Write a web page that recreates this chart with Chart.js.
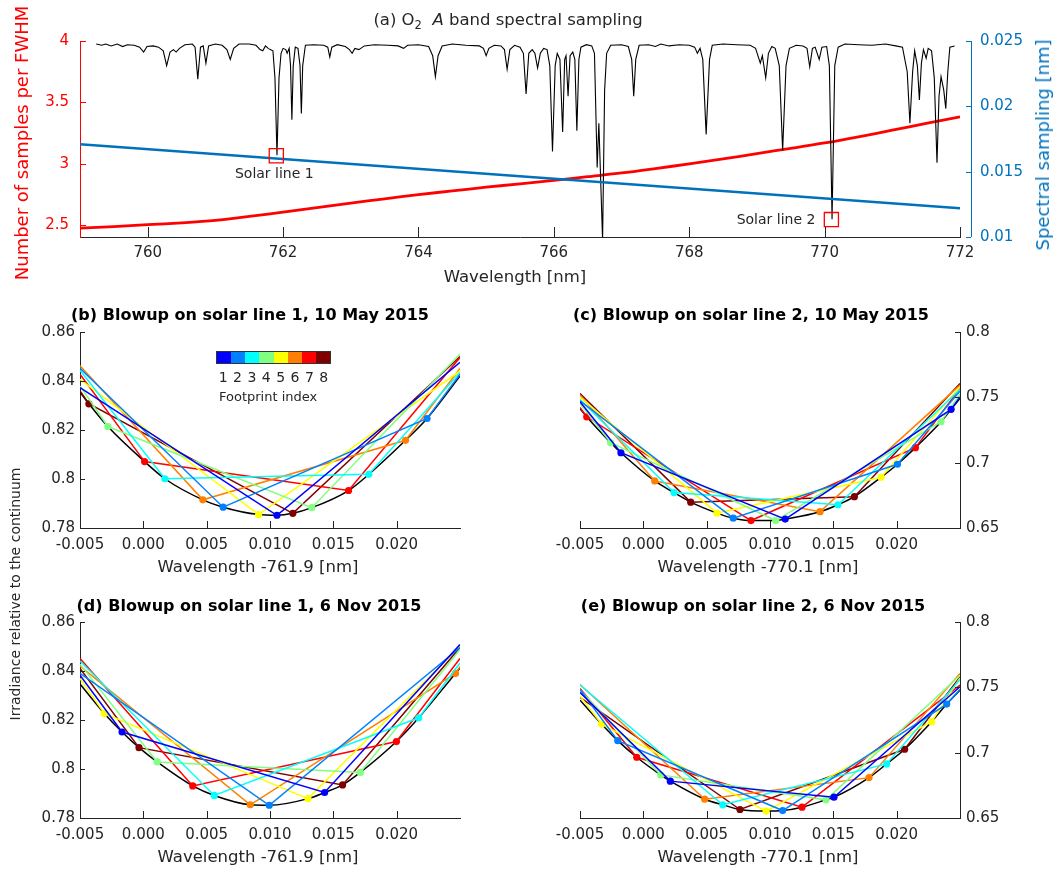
<!DOCTYPE html>
<html>
<head>
<meta charset="utf-8">
<script src="https://cdn.jsdelivr.net/npm/chart.js@4"></script>
<style>
body { margin: 0; background: #fff; }
#page { position: relative; width: 1060px; height: 870px; font-family: 'DejaVu Sans', sans-serif; color: #262626; }
canvas { position: absolute; }
.t { position: absolute; white-space: nowrap; transform: translate(-50%, -50%); line-height: 1; }
.rot { transform: translate(-50%, -50%) rotate(-90deg); }
.pt { font-weight: bold; font-size: 16px; color: #000; }
.xl { font-size: 16.5px; }
sub { font-size: 70%; vertical-align: -0.35em; line-height: 0; }
#cbar { position: absolute; left: 216px; top: 351px; width: 115px; height: 13px; display: flex; border: 1px solid #333; box-sizing: border-box; }
#cbar div { flex: 1; }
#cnum { position: absolute; left: 216px; top: 370px; width: 115px; display: flex; font-size: 14px; line-height: 1; }
#cnum div { flex: 1; text-align: center; }
</style>
</head>
<body>
<div id="page">
  <canvas id="cA" width="1060" height="290" style="left:0;top:0"></canvas>
  <canvas id="cB" width="530" height="285" style="left:0;top:295px"></canvas>
  <canvas id="cC" width="530" height="285" style="left:530px;top:295px"></canvas>
  <canvas id="cD" width="530" height="285" style="left:0;top:585px"></canvas>
  <canvas id="cE" width="530" height="285" style="left:530px;top:585px"></canvas>

  <div class="t" style="left:508px;top:20px;font-size:16.5px">(a) O<sub>2</sub>&nbsp; <i>A</i> band spectral sampling</div>
  <div class="t rot" style="left:22px;top:143px;font-size:18px;color:#ff0000">Number of samples per FWHM</div>
  <div class="t rot" style="left:1043px;top:145px;font-size:18px;color:#0072bd">Spectral sampling [nm]</div>
  <div class="t xl" style="left:515px;top:277px">Wavelength [nm]</div>

  <div class="t pt" style="left:250px;top:315px">(b) Blowup on solar line 1, 10 May 2015</div>
  <div class="t pt" style="left:751px;top:315px">(c) Blowup on solar line 2, 10 May 2015</div>
  <div class="t pt" style="left:249px;top:606px">(d) Blowup on solar line 1, 6 Nov 2015</div>
  <div class="t pt" style="left:753px;top:606px">(e) Blowup on solar line 2, 6 Nov 2015</div>

  <div class="t xl" style="left:258px;top:567px">Wavelength -761.9 [nm]</div>
  <div class="t xl" style="left:758px;top:567px">Wavelength -770.1 [nm]</div>
  <div class="t xl" style="left:258px;top:857px">Wavelength -761.9 [nm]</div>
  <div class="t xl" style="left:758px;top:857px">Wavelength -770.1 [nm]</div>
  <div class="t rot" style="left:15px;top:594px;font-size:14px">Irradiance relative to the continuum</div>

  <div id="cbar"></div>
  <div id="cnum"></div>
  <div style="position:absolute;left:219px;top:390px;font-size:13px;line-height:1">Footprint index</div>
</div>

<script>
// ---- panel (a) data ----
const specWl = [759.24, 759.32, 759.38, 759.46, 759.55, 759.63, 759.70, 759.80, 759.88, 759.94, 759.99, 760.08,
  760.16, 760.23, 760.28, 760.33, 760.38, 760.42, 760.47, 760.55, 760.66, 760.70, 760.74, 760.78, 760.82, 760.86,
  760.90, 761.00, 761.10, 761.17, 761.22, 761.27, 761.35, 761.50, 761.60, 761.66, 761.70, 761.74, 761.78, 761.81,
  761.85, 761.88, 761.91, 761.94, 761.97, 762.00, 762.04, 762.06, 762.09, 762.11, 762.13, 762.15, 762.18, 762.22,
  762.25, 762.27, 762.29, 762.33, 762.45, 762.60, 762.66, 762.69, 762.72, 762.80, 762.92, 762.98, 763.02, 763.06,
  763.12, 763.20, 763.35, 763.55, 763.70, 763.78, 763.84, 764.00, 764.15, 764.21, 764.25, 764.29, 764.35, 764.50,
  764.70, 764.90, 764.96, 765.00, 765.04, 765.12, 765.22, 765.27, 765.31, 765.35, 765.42, 765.50, 765.55, 765.59,
  765.63, 765.68, 765.72, 765.76, 765.80, 765.85, 765.90, 765.94, 765.98, 766.02, 766.05, 766.09, 766.13, 766.16,
  766.18, 766.21, 766.24, 766.28, 766.31, 766.34, 766.37, 766.40, 766.48, 766.56, 766.60, 766.64, 766.665, 766.72,
  766.75, 766.78, 766.84, 767.00, 767.10, 767.15, 767.18, 767.21, 767.26, 767.40, 767.50, 767.58, 767.70, 767.85,
  768.00, 768.08, 768.12, 768.16, 768.20, 768.25, 768.30, 768.34, 768.50, 768.70, 768.90, 768.98, 769.05, 769.08,
  769.13, 769.17, 769.22, 769.27, 769.33, 769.38, 769.43, 769.48, 769.58, 769.68, 769.74, 769.78, 769.82, 769.86,
  769.92, 769.96, 770.03, 770.07, 770.11, 770.15, 770.20, 770.30, 770.50, 770.70, 770.90, 771.05, 771.15, 771.22,
  771.26, 771.30, 771.33, 771.37, 771.40, 771.43, 771.46, 771.50, 771.53, 771.58, 771.62, 771.66, 771.69, 771.72,
  771.76, 771.79, 771.82, 771.85, 771.92];
const specVal = [3.975, 3.965, 3.975, 3.96, 3.975, 3.955, 3.97, 3.965, 3.95, 3.91, 3.955, 3.96,
  3.95, 3.92, 3.80, 3.91, 3.93, 3.91, 3.94, 3.97, 3.975, 3.95, 3.69, 3.95, 3.96, 3.82,
  3.96, 3.975, 3.965, 3.93, 3.85, 3.94, 3.975, 3.975, 3.965, 3.93, 3.92, 3.96, 3.94, 3.93,
  3.92, 3.70, 3.07, 3.70, 3.90, 3.94, 3.93, 3.90, 3.94, 3.80, 3.36, 3.80, 3.95, 3.94,
  3.80, 3.41, 3.80, 3.965, 3.97, 3.965, 3.95, 3.87, 3.95, 3.97, 3.955, 3.93, 3.90, 3.94,
  3.93, 3.96, 3.97, 3.965, 3.96, 3.94, 3.965, 3.97, 3.955, 3.88, 3.71, 3.88, 3.96, 3.975,
  3.965, 3.96, 3.94, 3.88, 3.94, 3.965, 3.96, 3.93, 3.77, 3.93, 3.965, 3.95, 3.90, 3.57,
  3.90, 3.93, 3.90, 3.78, 3.90, 3.94, 3.93, 3.80, 3.10, 3.80, 3.90, 3.85, 3.26, 3.85,
  3.88, 3.55, 3.88, 3.91, 3.85, 3.27, 3.85, 3.95, 3.97, 3.96, 3.90, 2.97, 3.33, 2.38,
  3.60, 3.90, 3.965, 3.97, 3.955, 3.85, 3.55, 3.85, 3.965, 3.97, 3.955, 3.975, 3.96, 3.97,
  3.965, 3.95, 3.90, 3.94, 3.85, 3.24, 3.85, 3.965, 3.975, 3.97, 3.965, 3.94, 3.82, 3.88,
  3.70, 3.90, 3.955, 3.94, 3.80, 3.11, 3.80, 3.94, 3.965, 3.96, 3.94, 3.79, 3.94, 3.95,
  3.85, 3.95, 3.955, 3.80, 2.55, 3.80, 3.95, 3.975, 3.97, 3.965, 3.975, 3.96, 3.95, 3.75,
  3.33, 3.75, 3.92, 3.80, 3.52, 3.82, 3.93, 3.86, 3.94, 3.92, 3.70, 3.01, 3.55, 3.71,
  3.60, 3.45, 3.75, 3.95, 3.96];

const fwhmWl = [759, 759.5, 760, 760.5, 761, 761.5, 762, 762.5, 763, 763.5, 764, 764.5, 765, 765.5,
  766, 766.5, 767, 767.5, 768, 768.5, 769, 769.5, 770, 770.5, 771, 771.5, 772];
const fwhmSamples = [2.478, 2.49, 2.505, 2.52, 2.54, 2.572, 2.608, 2.644, 2.68, 2.716, 2.75, 2.78, 2.81, 2.838,
  2.866, 2.896, 2.926, 2.962, 3.0, 3.04, 3.084, 3.126, 3.17, 3.22, 3.274, 3.33, 3.383];

const samplingWl = [759, 772];
const samplingNm = [0.0171, 0.0122];

const solarX = [761.9, 770.1];
const solarY = [3.066, 2.547];
const solarNames = ['Solar line 1', 'Solar line 2'];

// tick labels
const wlTicks = [760, 762, 764, 766, 768, 770, 772];
const fwhmTicks = [2.5, 3, 3.5, 4];
const samplingTicks = [0.01, 0.015, 0.02, 0.025];
const offsetTicks = [-0.005, 0, 0.005, 0.01, 0.015, 0.02];
const irrTicks1 = [0.78, 0.8, 0.82, 0.84, 0.86];
const irrTicks2 = [0.65, 0.7, 0.75, 0.8];

// ---- blowup panels ----
const footprints = [1, 2, 3, 4, 5, 6, 7, 8];
const jet8 = ['#0000ff', '#0080ff', '#00ffff', '#80ff80', '#ffff00', '#ff8000', '#ff0000', '#800000'];
const xMin = -0.005, xMax = 0.025;

const blackB = [[-0.005, 0.8355], [-0.0043, 0.8307], [-0.0028, 0.8214], [0.0001, 0.8071], [0.0017, 0.8001],
  [0.0047, 0.7915], [0.0063, 0.7885], [0.0091, 0.7855], [0.01055, 0.7852], [0.0118, 0.786], [0.0133, 0.7883],
  [0.0162, 0.7953], [0.0178, 0.8019], [0.0207, 0.8158], [0.0224, 0.8247], [0.025, 0.842]];
const fpB = [
  [[-0.005, 0.8373], [0.01055, 0.7852], [0.025, 0.8476]],
  [[-0.005, 0.8452], [0.0063, 0.7885], [0.0224, 0.8247], [0.025, 0.8428]],
  [[-0.005, 0.8444], [0.0017, 0.8001], [0.0178, 0.8019], [0.025, 0.8435]],
  [[-0.005, 0.838], [-0.0028, 0.8214], [0.0133, 0.7883], [0.025, 0.851]],
  [[-0.005, 0.8407], [0.0091, 0.7855], [0.025, 0.8441]],
  [[-0.005, 0.8462], [0.0047, 0.7915], [0.0207, 0.8158], [0.025, 0.8451]],
  [[-0.005, 0.8428], [0.0001, 0.8071], [0.0162, 0.7953], [0.025, 0.8496]],
  [[-0.005, 0.8359], [-0.0043, 0.8307], [0.0118, 0.786], [0.025, 0.850]]
];

const blackC = [[-0.005, 0.7415], [-0.00447, 0.7351], [-0.00258, 0.7153], [-0.00177, 0.7076], [0.0009, 0.686],
  [0.00242, 0.6771], [0.00374, 0.6698], [0.00582, 0.6614], [0.0071, 0.6575], [0.0085, 0.6557], [0.01045, 0.6557],
  [0.0112, 0.6568], [0.01395, 0.6625], [0.01537, 0.6678], [0.01666, 0.674], [0.01877, 0.6888], [0.02006, 0.6988],
  [0.02148, 0.7115], [0.0235, 0.7313], [0.0243, 0.7408], [0.025, 0.7492]];
const fpC = [
  [[-0.005, 0.7466], [-0.00177, 0.7076], [0.0112, 0.6568], [0.0243, 0.7408], [0.025, 0.7504]],
  [[-0.005, 0.7474], [0.0071, 0.6575], [0.02006, 0.6988], [0.025, 0.7547]],
  [[-0.005, 0.7484], [0.00242, 0.6771], [0.01537, 0.6678], [0.025, 0.756]],
  [[-0.005, 0.7453], [-0.00258, 0.7153], [0.01045, 0.6557], [0.0235, 0.7313], [0.025, 0.7524]],
  [[-0.005, 0.750], [0.00582, 0.6614], [0.01877, 0.6888], [0.025, 0.758]],
  [[-0.005, 0.7517], [0.0009, 0.686], [0.01395, 0.6625], [0.025, 0.7593]],
  [[-0.005, 0.7423], [-0.00447, 0.7351], [0.0085, 0.6557], [0.02148, 0.7115], [0.025, 0.7568]],
  [[-0.005, 0.753], [0.00374, 0.6698], [0.01666, 0.674], [0.025, 0.7606]]
];

const blackD = [[-0.005, 0.8347], [-0.00308, 0.8227], [-0.00168, 0.8151], [-0.00034, 0.8087], [0.00109, 0.8029],
  [0.0039, 0.7931], [0.0056, 0.7892], [0.00844, 0.7854], [0.00994, 0.7852], [0.013, 0.7879], [0.01431, 0.7904],
  [0.01573, 0.7935], [0.01713, 0.7986], [0.01998, 0.8112], [0.02174, 0.8209], [0.02464, 0.839], [0.025, 0.8412]];
const fpD = [
  [[-0.005, 0.8383], [-0.00168, 0.8151], [0.01431, 0.7904], [0.025, 0.8508]],
  [[-0.005, 0.839], [0.00994, 0.7852], [0.025, 0.8496]],
  [[-0.005, 0.8441], [0.0056, 0.7892], [0.02174, 0.8209], [0.025, 0.8433]],
  [[-0.005, 0.8428], [0.00109, 0.8029], [0.01713, 0.7986], [0.025, 0.8488]],
  [[-0.005, 0.837], [-0.00308, 0.8227], [0.013, 0.7879], [0.025, 0.8501]],
  [[-0.005, 0.842], [0.00844, 0.7854], [0.02464, 0.839], [0.025, 0.8418]],
  [[-0.005, 0.8451], [0.0039, 0.7931], [0.01998, 0.8112], [0.025, 0.8451]],
  [[-0.005, 0.841], [-0.00034, 0.8087], [0.01573, 0.7935], [0.025, 0.8496]]
];

const blackE = [[-0.005, 0.7402], [-0.00329, 0.7219], [-0.00202, 0.7092], [-0.00052, 0.6965], [0.00137, 0.683],
  [0.00213, 0.6782], [0.00485, 0.6644], [0.00627, 0.6601], [0.00763, 0.6565], [0.00969, 0.6553], [0.011, 0.6557],
  [0.01253, 0.6583], [0.01442, 0.6639], [0.01505, 0.6659], [0.01782, 0.6809], [0.01921, 0.6914], [0.02063, 0.7026],
  [0.02276, 0.7237], [0.02395, 0.7372], [0.025, 0.7479]];
const fpE = [
  [[-0.005, 0.7461], [0.00213, 0.6782], [0.01505, 0.6659], [0.025, 0.7504]],
  [[-0.005, 0.7484], [-0.00202, 0.7092], [0.011, 0.6557], [0.02395, 0.7372], [0.025, 0.7484]],
  [[-0.005, 0.7517], [0.00627, 0.6601], [0.01921, 0.6914], [0.025, 0.756]],
  [[-0.005, 0.7479], [0.00137, 0.683], [0.01442, 0.6639], [0.025, 0.7593]],
  [[-0.005, 0.7433], [-0.00329, 0.7219], [0.00969, 0.6553], [0.02276, 0.7237], [0.025, 0.7572]],
  [[-0.005, 0.7522], [0.00485, 0.6644], [0.01782, 0.6809], [0.025, 0.7606]],
  [[-0.005, 0.7491], [-0.00052, 0.6965], [0.01253, 0.6583], [0.025, 0.7517]],
  [[-0.005, 0.7423], [0.00763, 0.6565], [0.02063, 0.7026], [0.025, 0.758]]
];

Chart.defaults.font.family = "'DejaVu Sans', sans-serif";
Chart.defaults.color = '#262626';

const zipXY = (xs, ys) => xs.map((x, i) => ({x: x, y: ys[i]}));
const pts = arr => arr.map(p => ({x: p[0], y: p[1]}));
const fixedTicks = vals => (s => { s.ticks = vals.map(v => ({value: v})); });

// matlab style ticks pointing into the plot
const tickSpec = {};
const inTicks = {
  id: 'inTicks',
  afterDraw(chart) {
    const spec = tickSpec[chart.canvas.id];
    const ctx = chart.ctx, a = chart.chartArea;
    for (const id in spec) {
      const o = spec[id], s = chart.scales[id], shift = o.shift || 0;
      ctx.save();
      ctx.strokeStyle = o.color;
      ctx.lineWidth = 1;
      ctx.beginPath();
      if (o.line) {
        ctx.moveTo(a.right + shift + 0.5, a.top);
        ctx.lineTo(a.right + shift + 0.5, a.bottom);
      }
      s.ticks.forEach(t => {
        const p = Math.round(s.getPixelForValue(t.value)) + 0.5;
        if (s.isHorizontal()) {
          ctx.moveTo(p, a.bottom); ctx.lineTo(p, a.bottom - o.len);
        } else if (s.position === 'left') {
          ctx.moveTo(a.left, p); ctx.lineTo(a.left + o.len, p);
        } else {
          ctx.moveTo(a.right + shift, p); ctx.lineTo(a.right + shift - o.len, p);
        }
      });
      ctx.stroke();
      ctx.restore();
    }
  }
};

const solarText = {
  id: 'solarText',
  afterDatasetsDraw(chart) {
    const ctx = chart.ctx, x = chart.scales.x, y = chart.scales.y;
    ctx.save();
    ctx.font = "14px 'DejaVu Sans'";
    ctx.fillStyle = '#262626';
    ctx.textBaseline = 'middle';
    solarNames.forEach((n, i) => {
      const px = x.getPixelForValue(solarX[i]), py = y.getPixelForValue(solarY[i]);
      if (i === 0) { ctx.textAlign = 'center'; ctx.fillText(n, px - 2, py + 19); }
      else { ctx.textAlign = 'right'; ctx.fillText(n, px - 16, py + 1); }
    });
    ctx.restore();
  }
};

const noGrid = {display: false, drawTicks: false};

// (a) spectral sampling
tickSpec.cA = {
  x: {len: 10, color: '#262626'},
  y: {len: 6, color: '#ff0000'},
  y1: {len: 5, color: '#0072bd', shift: 11, line: true}
};
new Chart(document.getElementById('cA'), {
  type: 'line',
  data: {
    datasets: [
      {type: 'scatter', data: zipXY(solarX, solarY), yAxisID: 'y', pointStyle: 'rect', pointRadius: 10,
        pointBorderColor: '#ff0000', pointBackgroundColor: 'rgba(0,0,0,0)', pointBorderWidth: 1.3, showLine: false},
      {data: zipXY(samplingWl, samplingNm), yAxisID: 'y1', borderColor: '#0072bd', borderWidth: 2.5, pointRadius: 0},
      {data: zipXY(specWl, specVal), yAxisID: 'y', borderColor: '#000', borderWidth: 1.1, pointRadius: 0},
      {data: zipXY(fwhmWl, fwhmSamples), yAxisID: 'y', borderColor: '#ff0000', borderWidth: 2.8, pointRadius: 0, tension: 0.3}
    ]
  },
  options: {
    responsive: false, animation: false,
    layout: {padding: {top: 41, left: 0, right: 0, bottom: 0}},
    plugins: {legend: {display: false}, tooltip: {enabled: false}},
    scales: {
      x: {type: 'linear', min: 759, max: 772, bounds: 'data', grid: noGrid, border: {color: '#262626'},
        ticks: {padding: 7, font: {size: 15}, maxRotation: 0, autoSkip: false},
        afterBuildTicks: fixedTicks(wlTicks),
        afterFit: s => { s.height = 53; }},
      y: {position: 'left', min: 2.405, max: 4, bounds: 'data', grid: noGrid, border: {color: '#ff0000'},
        ticks: {padding: 11, color: '#ff0000', font: {size: 15}, callback: v => String(+v.toFixed(2))},
        afterBuildTicks: fixedTicks(fwhmTicks),
        afterFit: s => { s.width = 80; }},
      y1: {position: 'right', min: 0.01, max: 0.025, bounds: 'data', grid: noGrid, border: {display: false},
        ticks: {padding: 20, color: '#0072bd', font: {size: 15}, callback: v => String(+v.toFixed(3))},
        afterBuildTicks: fixedTicks(samplingTicks),
        afterFit: s => { s.width = 100; }}
    }
  },
  plugins: [inTicks, solarText]
});

// (b)-(e) blowups
function panel(id, black, fp, yMin, yMax, yTicks, side) {
  const left = side === 'left';
  const ds = fp.map((s, i) => ({
    data: pts(s), borderColor: jet8[i], backgroundColor: jet8[i], borderWidth: 1.5,
    pointRadius: c => (c.raw && (c.raw.x <= xMin || c.raw.x >= xMax)) ? 0 : 3.6,
    pointBorderWidth: 0
  }));
  ds.push({data: pts(black), borderColor: '#000', borderWidth: 1.5, pointRadius: 0, cubicInterpolationMode: 'monotone'});
  tickSpec[id] = {x: {len: 7, color: '#222'}, y: {len: 5, color: '#222'}};
  return new Chart(document.getElementById(id), {
    type: 'line',
    data: {datasets: ds},
    options: {
      responsive: false, animation: false,
      layout: {padding: {top: 37, left: left ? 0 : 50, right: left ? 70 : 0, bottom: 0}},
      plugins: {legend: {display: false}, tooltip: {enabled: false}},
      scales: {
        x: {type: 'linear', min: xMin, max: xMax, bounds: 'data', grid: noGrid, border: {color: '#222'},
          ticks: {padding: 8, font: {size: 15}, maxRotation: 0, autoSkip: false,
            callback: v => (Math.abs(v) < 1e-9 ? 0 : v).toFixed(3)},
          afterBuildTicks: fixedTicks(offsetTicks),
          afterFit: s => { s.height = 52; }},
        y: {position: side, min: yMin, max: yMax, bounds: 'data', grid: noGrid, border: {color: '#222'},
          ticks: {padding: left ? 5 : 6, font: {size: 15}, callback: v => String(+v.toFixed(2))},
          afterBuildTicks: fixedTicks(yTicks),
          afterFit: s => { s.width = left ? 80 : 100; }}
      }
    },
    plugins: [inTicks]
  });
}

panel('cB', blackB, fpB, 0.78, 0.86, irrTicks1, 'left');
panel('cC', blackC, fpC, 0.65, 0.8, irrTicks2, 'right');
panel('cD', blackD, fpD, 0.78, 0.86, irrTicks1, 'left');
panel('cE', blackE, fpE, 0.65, 0.8, irrTicks2, 'right');

// footprint colour bar
const cbar = document.getElementById('cbar'), cnum = document.getElementById('cnum');
footprints.forEach((f, i) => {
  const c = document.createElement('div');
  c.style.background = jet8[i];
  cbar.appendChild(c);
  const n = document.createElement('div');
  n.textContent = f;
  cnum.appendChild(n);
});
</script>
</body>
</html>
